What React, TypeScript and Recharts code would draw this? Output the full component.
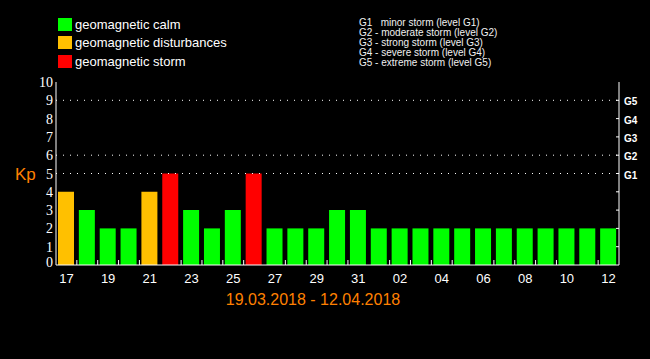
import { BarChart, Bar, Cell, XAxis, YAxis, ReferenceLine } from 'recharts';

const days = [
  '17', '18', '19', '20', '21', '22', '23', '24', '25', '26', '27', '28', '29', '30', '31',
  '01', '02', '03', '04', '05', '06', '07', '08', '09', '10', '11', '12',
];
const kpValues = [4, 3, 2, 2, 4, 5, 3, 2, 3, 5, 2, 2, 2, 3, 3, 2, 2, 2, 2, 2, 2, 2, 2, 2, 2, 2, 2];
const kpTicks = [0, 1, 2, 3, 4, 5, 6, 7, 8, 9, 10];
const stormTicks = [1, 2, 3, 4, 5, 6, 7, 8, 9];
const stormLabels = ['G1', 'G2', 'G3', 'G4', 'G5'];
const dottedLevels = [5, 6, 9];

const legendItems = [
  { label: 'geomagnetic calm', color: '#00ff00' },
  { label: 'geomagnetic disturbances', color: '#ffc000' },
  { label: 'geomagnetic storm', color: '#ff0000' },
];
const stormLegend = [
  'G1   minor storm (level G1)',
  'G2 - moderate storm (level G2)',
  'G3 - strong storm (level G3)',
  'G4 - severe storm (level G4)',
  'G5 - extreme storm (level G5)',
];
const period = '19.03.2018 - 12.04.2018';

const ORANGE_TEXT = '#ff8000';

const data = days.map((day, i) => ({ day, kp: kpValues[i] }));

function kpColor(kp: number) {
  if (kp >= 5) return legendItems[2].color;
  if (kp >= 4) return legendItems[1].color;
  return legendItems[0].color;
}

// bottom axis: label every other day, small inward tick at day boundaries
function BottomTick(props: any) {
  const { x, y, payload, index } = props;
  const half = payload?.offset || 10.4;
  const showBoundary = index < days.length - 1 && (index + 1) % 5 !== 0;
  return (
    <g>
      {showBoundary && <line x1={x + half} x2={x + half} y1={y - 5} y2={y} stroke="#fff" />}
      {index % 2 === 0 && (
        <text x={x} y={y + 18} textAnchor="middle" fill="#fff" fontSize={13} fontFamily="Liberation Sans, Arial, sans-serif">
          {payload.value}
        </text>
      )}
    </g>
  );
}

function TopTick(props: any) {
  const { x, y, payload, index } = props;
  const half = payload?.offset || 10.4;
  const showBoundary = index < days.length - 1 && (index + 1) % 5 !== 0;
  if (!showBoundary) return <g />;
  return <line x1={x + half} x2={x + half} y1={y} y2={y + 5} stroke="#fff" />;
}

function KpTick(props: any) {
  const { x, y, payload } = props;
  const lift = payload.value === 0 ? -3 : 0;
  return (
    <text x={x - 3} y={y + 5 + lift} textAnchor="end" fill="#fff" fontSize={14} fontFamily="Liberation Serif, serif">
      {payload.value}
    </text>
  );
}

function StormTick(props: any) {
  const { x, y, payload } = props;
  const label = payload.value >= 5 ? stormLabels[payload.value - 5] : null;
  return (
    <g>
      <line x1={x - 3} x2={x} y1={y} y2={y} stroke="#fff" />
      {label && (
        <text x={x + 5} y={y + 5} fill="#fff" fontSize={10} fontWeight="bold" fontFamily="Liberation Sans, Arial, sans-serif">
          {label}
        </text>
      )}
    </g>
  );
}

export default function App() {
  return (
    <div
      style={{
        position: 'fixed',
        top: 0,
        left: 0,
        width: 650,
        height: 359,
        background: '#000',
        overflow: 'hidden',
        fontFamily: 'Liberation Sans, Arial, sans-serif',
      }}
    >
      <BarChart width={650} height={359} data={data} margin={{ top: 82, right: 0, bottom: 64, left: 0 }} barSize={16}>
        <XAxis
          dataKey="day"
          interval={0}
          height={30}
          tickSize={0}
          tickMargin={0}
          tickLine={false}
          axisLine={{ stroke: '#fff' }}
          tick={<BottomTick />}
        />
        <XAxis
          xAxisId="top"
          dataKey="day"
          orientation="top"
          interval={0}
          height={0}
          tickSize={0}
          tickMargin={0}
          tickLine={false}
          axisLine={{ stroke: '#fff' }}
          tick={<TopTick />}
        />
        <YAxis
          width={56}
          domain={[0, 10]}
          ticks={kpTicks}
          interval={0}
          tickSize={0}
          tickMargin={0}
          tickLine={false}
          axisLine={{ stroke: '#fff' }}
          tick={<KpTick />}
          label={{ value: 'Kp', position: 'insideLeft', offset: 15, fill: ORANGE_TEXT, fontSize: 17, fontFamily: 'Liberation Sans, Arial, sans-serif' }}
        />
        <YAxis
          yAxisId="g"
          orientation="right"
          width={31}
          domain={[0, 10]}
          allowDataOverflow
          ticks={stormTicks}
          interval={0}
          tickSize={0}
          tickMargin={0}
          tickLine={false}
          axisLine={{ stroke: '#fff' }}
          tick={<StormTick />}
        />
        {dottedLevels.map((lvl) => (
          <ReferenceLine key={lvl} y={lvl} stroke="#fff" strokeDasharray="1 6" />
        ))}
        <Bar dataKey="kp" isAnimationActive={false}>
          {data.map((d) => (
            <Cell key={d.day} fill={kpColor(d.kp)} />
          ))}
        </Bar>
      </BarChart>

      {/* left legend */}
      {legendItems.map((item, i) => (
        <div
          key={item.label}
          style={{
            position: 'absolute',
            left: 58,
            top: 17 + i * 18.5,
            height: 14,
            display: 'flex',
            alignItems: 'center',
            color: '#fff',
            fontSize: 13,
            whiteSpace: 'nowrap',
          }}
        >
          <span style={{ display: 'inline-block', width: 14, height: 13, background: item.color, marginRight: 3 }} />
          {item.label}
        </div>
      ))}

      {/* storm level legend */}
      <div style={{ position: 'absolute', left: 359, top: 18, color: '#f0f0f0', fontSize: 10, lineHeight: '10px', whiteSpace: 'pre' }}>
        {stormLegend.map((s) => (
          <div key={s}>{s}</div>
        ))}
      </div>

      <div
        style={{
          position: 'absolute',
          left: 0,
          top: 292,
          width: 626,
          textAlign: 'center',
          color: ORANGE_TEXT,
          fontSize: 16,
          lineHeight: '16px',
        }}
      >
        {period}
      </div>
    </div>
  );
}
